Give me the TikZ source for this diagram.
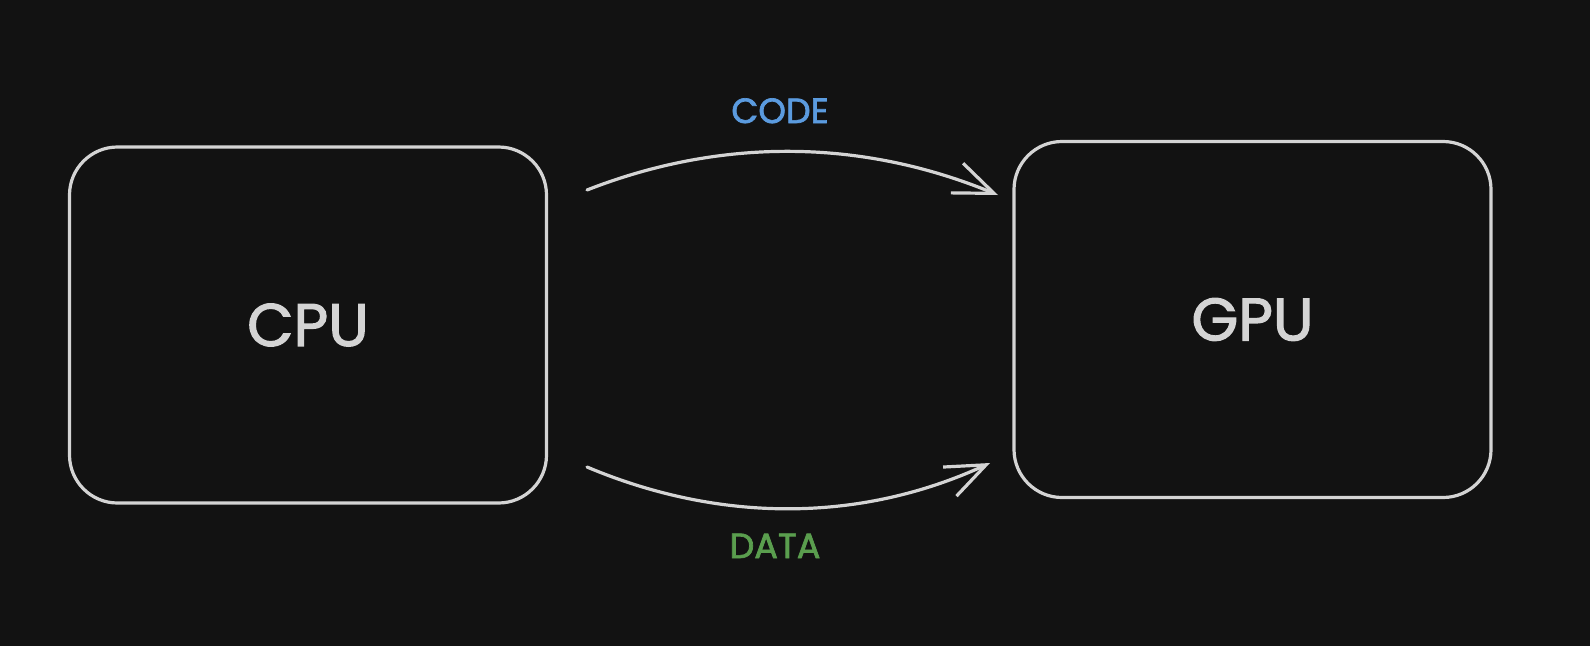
\documentclass[tikz,border=0pt]{standalone}
\usepackage{fontspec}
\setmainfont{Poppins}[FakeBold=2]
\usetikzlibrary{arrows.meta}
\definecolor{bg}{HTML}{121212}
\definecolor{ink}{HTML}{D4D4D4}
\definecolor{codeblue}{HTML}{5B9BDF}
\definecolor{datagreen}{HTML}{5A9E4E}
\begin{document}
\begin{tikzpicture}[x=1pt,y=-1pt,
  box/.style={draw=ink, line width=3.2pt, rounded corners=48pt,
    minimum width=477pt, minimum height=356pt, inner sep=0pt,
    font=\fontsize{60}{64}\selectfont, text=ink},
  conn/.style={draw=ink, line width=3.2pt, line cap=round,
    -{Straight Barb[length=40pt,width=32pt,line width=3.2pt]}},
  lbl/.style={font=\fontsize{35}{38}\selectfont, anchor=base}]
\fill[bg] (0,0) rectangle (1590,646);
\useasboundingbox (0,0) rectangle (1590,646);
\node[box] (cpu) at (308,325) {CPU};
\node[box] (gpu) at (1252.5,319.5) {GPU};
\coordinate (cs) at (587,190);
\coordinate (ce) at (998,195);
\coordinate (ds) at (587,467);
\coordinate (de) at (990,463);
\draw[conn] (cs) .. controls (720,138) and (860,138) .. (ce);
\draw[conn] (ds) .. controls (720,523) and (860,523) .. (de);
\node[lbl, text=codeblue] (code) at (780,123) {CODE};
\node[lbl, text=datagreen] (data) at (775,558) {DATA};
\end{tikzpicture}
\end{document}
